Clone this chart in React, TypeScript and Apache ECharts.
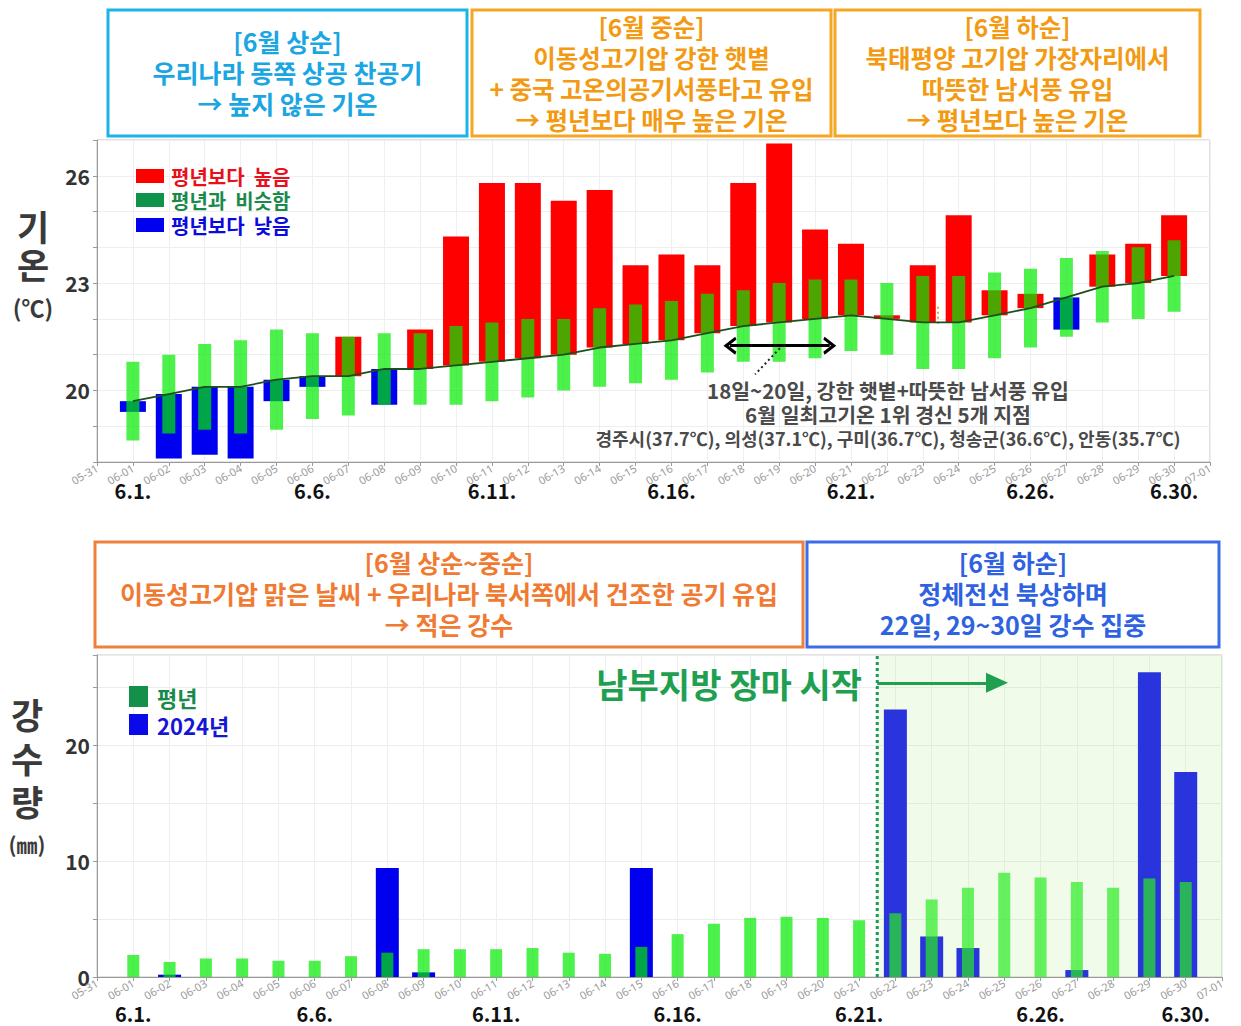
import React, { useEffect, useRef } from "react";
import * as echarts from "echarts";

// ---------- data ----------
const dateTicks = [
  "05-31", "06-01", "06-02", "06-03", "06-04", "06-05", "06-06", "06-07", "06-08", "06-09", "06-10",
  "06-11", "06-12", "06-13", "06-14", "06-15", "06-16", "06-17", "06-18", "06-19", "06-20",
  "06-21", "06-22", "06-23", "06-24", "06-25", "06-26", "06-27", "06-28", "06-29", "06-30", "07-01",
];
const days = [1, 2, 3, 4, 5, 6, 7, 8, 9, 10, 11, 12, 13, 14, 15, 16, 17, 18, 19, 20, 21, 22, 23, 24, 25, 26, 27, 28, 29, 30];
const boldTickDays = [1, 6, 11, 16, 21, 26, 30];
const boldTickLabels = ["6.1.", "6.6.", "6.11.", "6.16.", "6.21.", "6.26.", "6.30."];
const tempTickLabels = [20, 23, 26];
const rainTickLabels = [0, 10, 20];

// 평년 기온 (line)
const normalTemp = [19.7, 19.9, 20.1, 20.1, 20.3, 20.4, 20.4, 20.6, 20.6, 20.7, 20.8, 20.9, 21.0, 21.2, 21.3, 21.4, 21.6, 21.8, 21.9, 22.0, 22.1, 22.0, 21.9, 21.9, 22.1, 22.3, 22.6, 22.9, 23.0, 23.2];
// 2024 기온
const actualTemp = [19.4, 18.1, 18.2, 18.1, 19.7, 20.1, 21.5, 19.6, 21.7, 24.3, 25.8, 25.8, 25.3, 25.6, 23.5, 23.8, 23.5, 25.8, 26.9, 24.5, 24.1, 22.1, 23.5, 24.9, 22.8, 22.7, 21.7, 23.8, 24.1, 24.9];
// 평년과 비슷함 범위
const similarLow = [18.6, 18.8, 18.9, 18.8, 18.9, 19.2, 19.3, 19.6, 19.6, 19.6, 19.7, 19.8, 20.0, 20.1, 20.2, 20.3, 20.5, 20.8, 20.8, 20.9, 21.1, 21.0, 20.6, 20.6, 20.9, 21.2, 21.5, 21.9, 22.0, 22.2];
const similarHigh = [20.8, 21.0, 21.3, 21.4, 21.7, 21.6, 21.5, 21.6, 21.6, 21.8, 21.9, 22.0, 22.0, 22.3, 22.4, 22.5, 22.7, 22.8, 23.0, 23.1, 23.1, 23.0, 23.2, 23.2, 23.3, 23.4, 23.7, 23.9, 24.0, 24.2];
// 강수량
const normalRain = [1.9, 1.3, 1.6, 1.6, 1.4, 1.4, 1.8, 2.1, 2.4, 2.4, 2.4, 2.5, 2.1, 2.0, 2.6, 3.7, 4.6, 5.1, 5.2, 5.1, 4.9, 5.5, 6.7, 7.7, 9.0, 8.6, 8.2, 7.7, 8.5, 8.2];
const rain2024 = [0, 0.2, 0, 0, 0, 0, 0, 9.4, 0.4, 0, 0, 0, 0, 0, 9.4, 0, 0, 0, 0, 0, 0, 23.1, 3.5, 2.5, 0, 0, 0.6, 0, 26.3, 17.7];
const monsoonStartDay = 21.5;

const FONT = "'Noto Sans CJK KR', 'Noto Sans', sans-serif";
const RED = "#ff0000";
const BLUE = "#0000f0";
const SIM_GREEN = "rgba(0,235,0,0.7)";

function txt(x: number, y: number, text: string, size: number, color: string, weight: any = "bold", align = "center", lineHeight?: number, rich?: any) {
  return {
    type: "text",
    x,
    y,
    silent: true,
    z: 100,
    style: {
      text,
      fontSize: size,
      fontWeight: weight,
      fontFamily: FONT,
      fill: color,
      textAlign: align,
      textVerticalAlign: "middle",
      lineHeight: lineHeight || size,
      rich,
    },
  };
}

function box(x: number, y: number, w: number, h: number, color: string) {
  return {
    type: "rect",
    silent: true,
    z: 90,
    shape: { x, y, width: w, height: h },
    style: { fill: "#ffffff", stroke: color, lineWidth: 3 },
  };
}

function legendRect(x: number, y: number, w: number, h: number, color: string) {
  return { type: "rect", silent: true, z: 100, shape: { x, y, width: w, height: h }, style: { fill: color } };
}

function richStyle(size: number, color: string, lineHeight: number) {
  return { fontSize: size, fontWeight: "bold", fontFamily: FONT, fill: color, color, lineHeight };
}

const chevron = "path://M0,9 L5,0 L10,9 L8.4,10 L5,4 L1.6,10 Z";

function xAxisMain(gridIndex: number) {
  return {
    type: "value",
    gridIndex,
    position: "bottom",
    min: 0,
    max: 31,
    interval: 1,
    axisLine: { show: true, onZero: false, lineStyle: { color: "#9a9a9a" } },
    axisTick: { show: true, length: 4, lineStyle: { color: "#9a9a9a" } },
    axisLabel: {
      rotate: 30,
      fontSize: 11,
      color: "#9a9a9a",
      margin: 5,
      fontFamily: "'Noto Sans', sans-serif",
      formatter: (v: number) => dateTicks[v] || "",
    },
    splitLine: { show: true, lineStyle: { color: "#efefef" } },
  };
}

function xAxisBold(gridIndex: number, margin: number) {
  return {
    type: "value",
    gridIndex,
    position: "bottom",
    min: 0,
    max: 31,
    interval: 1,
    axisLine: { show: false, onZero: false },
    axisTick: { show: false },
    splitLine: { show: false },
    axisLabel: {
      fontSize: 20,
      lineHeight: 20,
      fontWeight: "bold",
      color: "#111",
      margin,
      fontFamily: FONT,
      formatter: (v: number) => {
        const i = boldTickDays.indexOf(v);
        return i >= 0 ? boldTickLabels[i] : "";
      },
    },
  };
}

function floatingBar(width: number, colorOf: (i: number, lo: number, hi: number) => string) {
  return (params: any, api: any) => {
    const x = api.value(0);
    const a = api.value(1);
    const b = api.value(2);
    const top = api.coord([x, Math.max(a, b)]);
    const bottom = api.coord([x, Math.min(a, b)]);
    return {
      type: "rect",
      shape: { x: top[0] - width / 2, y: top[1], width, height: Math.max(bottom[1] - top[1], 1.5) },
      style: { fill: colorOf(params.dataIndex, a, b) },
    };
  };
}

function buildOption() {
  const devData = days.map((d, i) => [d, normalTemp[i], actualTemp[i]]);
  const simData = days.map((d, i) => [d, similarLow[i], similarHigh[i]]);
  const normalLine = days.map((d, i) => [d, normalTemp[i]]);
  const rainBar = days.map((d, i) => [d, rain2024[i]]);
  const normalRainBar = days.map((d, i) => [d, normalRain[i]]);

  const graphic: any[] = [
    // top boxes
    box(108, 10, 359, 126, "#1ab4e6"),
    txt(287.5, 72, "[6월 상순]\n우리나라 동쪽 상공 찬공기\n→ 높지 않은 기온", 25, "#1aa6e2", "bold", "center", 31),
    box(472, 10, 359, 126, "#f5a623"),
    txt(651.5, 73, "[6월 중순]\n이동성고기압 강한 햇볕\n+ 중국 고온의공기서풍타고 유입\n→ 평년보다 매우 높은 기온", 24.5, "#f39a12", "bold", "center", 30.7),
    box(835, 10, 365, 126, "#f5a623"),
    txt(1017.5, 73, "[6월 하순]\n북태평양 고기압 가장자리에서\n따뜻한 남서풍 유입\n→ 평년보다 높은 기온", 24.5, "#f39a12", "bold", "center", 30.7),
    // bottom boxes
    box(95, 542, 708, 105, "#f0813c"),
    txt(449, 593, "[6월 상순~중순]\n이동성고기압 맑은 날씨 + 우리나라 북서쪽에서 건조한 공기 유입\n→ 적은 강수", 25, "#f07a32", "bold", "center", 31),
    box(807, 542, 412, 105, "#3c6de6"),
    txt(1013, 593, "[6월 하순]\n정체전선 북상하며\n22일, 29~30일 강수 집중", 25, "#2e62e0", "bold", "center", 31),
    // y titles
    txt(33, 244, "기\n온", 35, "#3a3a3a", "bold", "center", 38),
    txt(33, 307, "(℃)", 23, "#3a3a3a"),
    txt(27, 757, "강\n수\n량", 35, "#3a3a3a", "bold", "center", 43.5),
    txt(27, 844, "(㎜)", 21, "#3a3a3a"),
    // top legend
    legendRect(136, 169, 28, 14, RED),
    legendRect(136, 193, 28, 14, "#0f934a"),
    legendRect(136, 218, 28, 14, BLUE),
    txt(171, 200.5, "{r|평년보다  높음}\n{g|평년과  비슷함}\n{b|평년보다  낮음}", 20, "#333", "bold", "left", 24.5, {
      r: richStyle(20, "#e8101a", 24.5),
      g: richStyle(20, "#1a8a4a", 24.5),
      b: richStyle(20, "#0a0ae0", 24.5),
    }),
    // top annotation
    txt(888, 414, "{a|18일~20일, 강한 햇볕+따뜻한 남서풍 유입}\n{a|6월 일최고기온 1위 경신 5개 지점}\n{c|경주시(37.7℃), 의성(37.1℃), 구미(36.7℃), 청송군(36.6℃), 안동(35.7℃)}", 20, "#4a4a4a", "bold", "center", 24, {
      a: richStyle(20.5, "#4a4a4a", 24),
      c: richStyle(18, "#4a4a4a", 24),
    }),
    // bottom legend
    legendRect(129, 686, 19, 21, "#14904a"),
    legendRect(129, 714, 19, 21, "#0a0ae8"),
    txt(157, 711, "{g|평년}\n{b|2024년}", 22, "#333", "bold", "left", 28, {
      g: richStyle(22, "#1a8a4a", 28),
      b: richStyle(22, "#1515d5", 28),
    }),
    // monsoon label
    txt(862, 683, "남부지방 장마 시작", 34, "#1fa050", "bold", "right"),
  ];

  return {
    animation: false,
    backgroundColor: "#ffffff",
    textStyle: { fontFamily: FONT },
    graphic,
    grid: [
      { left: 97, top: 140, width: 1113, height: 322, show: true, borderColor: "#c4c4c4", borderWidth: 1, backgroundColor: "transparent" },
      { left: 97, top: 655, width: 1125, height: 322, show: true, borderColor: "#c4c4c4", borderWidth: 1, backgroundColor: "transparent" },
    ],
    xAxis: [xAxisMain(0), xAxisBold(0, 18), xAxisMain(1), xAxisBold(1, 26)],
    yAxis: [
      {
        type: "value",
        gridIndex: 0,
        min: 18,
        max: 27,
        interval: 1,
        axisLine: { show: true, lineStyle: { color: "#9a9a9a" } },
        axisTick: { show: true, length: 4, lineStyle: { color: "#9a9a9a" } },
        axisLabel: {
          fontSize: 21,
          fontWeight: "bold",
          color: "#333",
          margin: 7,
          fontFamily: FONT,
          formatter: (v: number) => (tempTickLabels.indexOf(v) >= 0 ? String(v) : ""),
        },
        splitLine: { show: true, lineStyle: { color: "#efefef" } },
      },
      {
        type: "value",
        gridIndex: 1,
        min: 0,
        max: 27.8,
        interval: 5,
        axisLine: { show: true, lineStyle: { color: "#9a9a9a" } },
        axisTick: { show: true, length: 4, lineStyle: { color: "#9a9a9a" } },
        axisLabel: {
          fontSize: 21,
          fontWeight: "bold",
          color: "#333",
          margin: 7,
          fontFamily: FONT,
          formatter: (v: number) => (rainTickLabels.indexOf(v) >= 0 ? String(v) : ""),
        },
        splitLine: { show: true, lineStyle: { color: "#ececec" } },
      },
    ],
    series: [
      {
        name: "2024 기온",
        type: "custom",
        xAxisIndex: 0,
        yAxisIndex: 0,
        z: 2,
        encode: { x: 0, y: [1, 2] },
        renderItem: floatingBar(26, (i, a, b) => (b >= a ? RED : BLUE)),
        data: devData,
      },
      {
        name: "평년과 비슷함",
        type: "custom",
        xAxisIndex: 0,
        yAxisIndex: 0,
        z: 3,
        encode: { x: 0, y: [1, 2] },
        renderItem: floatingBar(13, () => SIM_GREEN),
        data: simData,
      },
      {
        name: "평년 기온",
        type: "line",
        xAxisIndex: 0,
        yAxisIndex: 0,
        z: 6,
        symbol: "none",
        lineStyle: { color: "#1d4f1d", width: 1.8 },
        data: normalLine,
        markLine: {
          silent: true,
          animation: false,
          label: { show: false },
          data: [
            [
              { coord: [17.63, 21.25], symbol: chevron, symbolSize: [18, 13], lineStyle: { color: "#000", width: 3, type: "solid" } },
              { coord: [20.41, 21.25], symbol: chevron, symbolSize: [18, 13] },
            ],
            [
              { coord: [19.02, 21.18], symbol: "none", lineStyle: { color: "#222", width: 2, type: [2, 3] } },
              { coord: [18.33, 20.45], symbol: "none" },
            ],
            [
              { coord: [23.42, 22.34], symbol: "none", lineStyle: { color: "#f0a030", width: 2, type: [2, 3] } },
              { coord: [23.42, 21.78], symbol: "none" },
            ],
          ],
        },
      },
      {
        name: "2024년",
        type: "bar",
        xAxisIndex: 2,
        yAxisIndex: 1,
        barWidth: 23,
        itemStyle: { color: "#0000ee" },
        data: rainBar,
      },
      {
        name: "평년",
        type: "bar",
        xAxisIndex: 3,
        yAxisIndex: 1,
        barWidth: 12,
        itemStyle: { color: SIM_GREEN },
        data: normalRainBar,
      },
      {
        name: "장마 시작",
        type: "line",
        xAxisIndex: 2,
        yAxisIndex: 1,
        z: 6,
        symbol: "none",
        lineStyle: { color: "#179a5a", width: 3, type: [3, 3] },
        data: [
          [monsoonStartDay, 0],
          [monsoonStartDay, 27.8],
        ],
        markArea: {
          silent: true,
          z: 4,
          itemStyle: { color: "rgba(190,235,160,0.22)" },
          data: [[{ coord: [monsoonStartDay, 0] }, { coord: [31, 27.8] }]],
        },
        markLine: {
          silent: true,
          animation: false,
          label: { show: false },
          data: [
            [
              { coord: [monsoonStartDay, 25.4], symbol: "none", lineStyle: { color: "#1fa050", width: 3, type: "solid" } },
              { coord: [24.8, 25.4], symbol: "triangle", symbolSize: [20, 22] },
            ],
          ],
        },
      },
    ],
  };
}

export default function App() {
  const ref = useRef<HTMLDivElement>(null);
  useEffect(() => {
    document.body.style.margin = "0";
    const chart = echarts.init(ref.current!, null, { renderer: "svg" });
    chart.setOption(buildOption() as any);
    return () => chart.dispose();
  }, []);
  return <div ref={ref} style={{ width: 1241, height: 1026 }} />;
}
